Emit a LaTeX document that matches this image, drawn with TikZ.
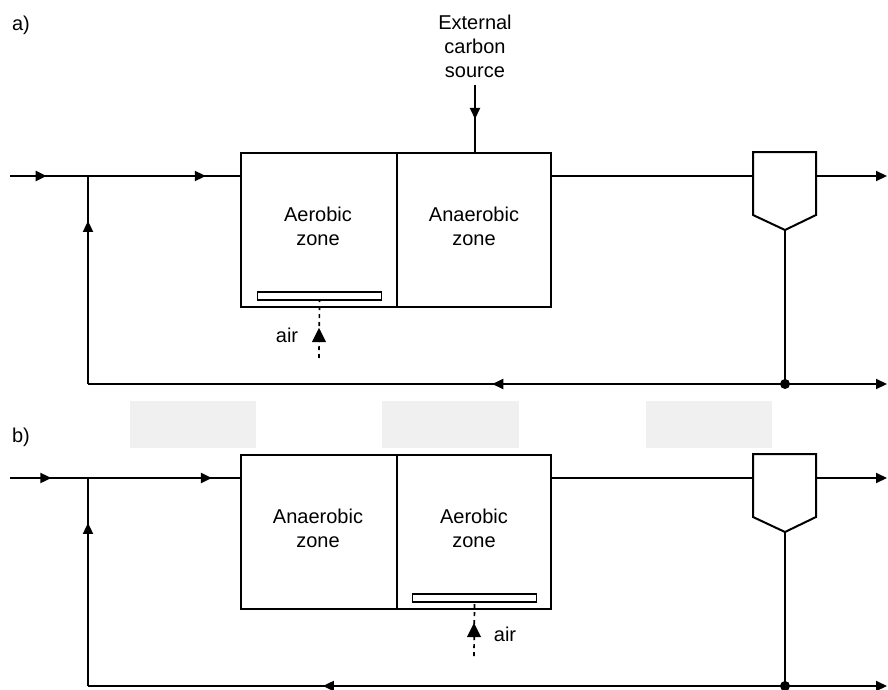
\documentclass[tikz,border=0pt]{standalone}
\usepackage{fontspec}
\setmainfont{Liberation Sans}
\usetikzlibrary{arrows.meta,decorations.markings}
\begin{document}
\begin{tikzpicture}[x=1pt,y=-1pt,line width=2pt,
  lbl/.style={font=\fontsize{20}{24}\selectfont,align=center,inner sep=0pt},
  tank/.style={draw,line width=2pt,inner sep=0pt},
  diffuser/.style={draw,line width=1.7pt,inner sep=0pt,minimum width=124pt,minimum height=8pt},
  marker/.style={postaction={decorate},decoration={markings,mark=at position #1 with {\arrow{Triangle[length=11pt,width=10pt]}}}},
  tipend/.style={-{Triangle[length=11pt,width=10pt]}},
  airline/.style={line width=1.7pt,dash pattern=on 4pt off 4pt},
  greybox/.style={fill=black!6,draw=none,inner sep=0pt},
  dot/.style={circle,fill,inner sep=0pt,minimum size=10pt}]
\useasboundingbox (0,0) rectangle (888,690);

% grey boxes
\node[greybox,minimum width=126pt,minimum height=47pt] (g1) at (193,424) {};
\node[greybox,minimum width=137pt,minimum height=47pt] (g2) at (450.5,424) {};
\node[greybox,minimum width=126pt,minimum height=47pt] (g3) at (709,424) {};

% ---------------- a) ----------------
\node[lbl] (la) at (21,25) {a)};
\coordinate (ainA) at (10,176);
\coordinate (aJ) at (88,176);
\node[tank,minimum width=310pt,minimum height=154pt] (aR) at (396,230) {};
\coordinate (aRin) at (241,176);
\coordinate (aRout) at (551,176);
\draw (aR.north west -| 397,0) -- (aR.south west -| 397,0);
\node[lbl] (aZ1) at (318,226) {Aerobic\\zone};
\node[lbl] (aZ2) at (474,226) {Anaerobic\\zone};
\node[diffuser] (aD) at (319.5,296) {};
\coordinate (aAir) at (319,358);
\node[lbl] (aAirT) at (287,335) {air};
\draw[airline] (aAir) -- (aD.south);
\draw[fill] (319,330) -- (324.5,341) -- (313.5,341) -- cycle;
\node[lbl] (aExt) at (475,46) {External\\carbon\\source};
\coordinate (aExtS) at (475,85);
\draw[marker=0.5] (aExtS) -- (475,153);
% flows
\draw[marker=0.47] (ainA) -- (aJ);
\draw[marker=0.77] (aJ) -- (aRin);
% clarifier
\draw (753,152) -- (816,152) -- (816,215) -- (785,230) -- (753,215) -- cycle;
\coordinate (aCl) at (753,176);
\coordinate (aCr) at (816,176);
\coordinate (aCb) at (785,230);
\coordinate (aOut) at (887,176);
\draw (aRout) -- (aCl);
\draw[tipend] (aCr) -- (aOut);
\coordinate (aDot) at (785,384);
\coordinate (aBL) at (88,384);
\coordinate (aBR) at (887,384);
\draw (aCb) -- (aDot);
\draw[tipend] (aDot) -- (aBR);
\draw[marker=0.42] (aDot) -- (aBL);
\draw[marker=0.784] (aBL) -- (aJ);
\node[dot] (aDotN) at (aDot) {};

% ---------------- b) ----------------
\node[lbl] (lb) at (21,437) {b)};
\coordinate (binA) at (10,478);
\coordinate (bJ) at (88,478);
\node[tank,minimum width=310pt,minimum height=154pt] (bR) at (396,532) {};
\coordinate (bRin) at (241,478);
\coordinate (bRout) at (551,478);
\draw (bR.north west -| 397,0) -- (bR.south west -| 397,0);
\node[lbl] (bZ1) at (318,528) {Anaerobic\\zone};
\node[lbl] (bZ2) at (474,528) {Aerobic\\zone};
\node[diffuser] (bD) at (474.5,598) {};
\coordinate (bAir) at (474,656);
\node[lbl] (bAirT) at (505,634) {air};
\draw[airline] (bAir) -- (bD.south);
\draw[fill] (474,625) -- (479.5,636) -- (468.5,636) -- cycle;
\draw[marker=0.53] (binA) -- (bJ);
\draw[marker=0.81] (bJ) -- (bRin);
\draw (753,454) -- (816,454) -- (816,517) -- (785,532) -- (753,517) -- cycle;
\coordinate (bCl) at (753,478);
\coordinate (bCr) at (816,478);
\coordinate (bCb) at (785,532);
\coordinate (bOut) at (887,478);
\draw (bRout) -- (bCl);
\draw[tipend] (bCr) -- (bOut);
\coordinate (bDot) at (785,686);
\coordinate (bBL) at (88,686);
\coordinate (bBR) at (887,686);
\draw (bCb) -- (bDot);
\draw[tipend] (bDot) -- (bBR);
\draw[marker=0.663] (bDot) -- (bBL);
\draw[marker=0.784] (bBL) -- (bJ);
\node[dot] (bDotN) at (bDot) {};
\end{tikzpicture}
\end{document}
